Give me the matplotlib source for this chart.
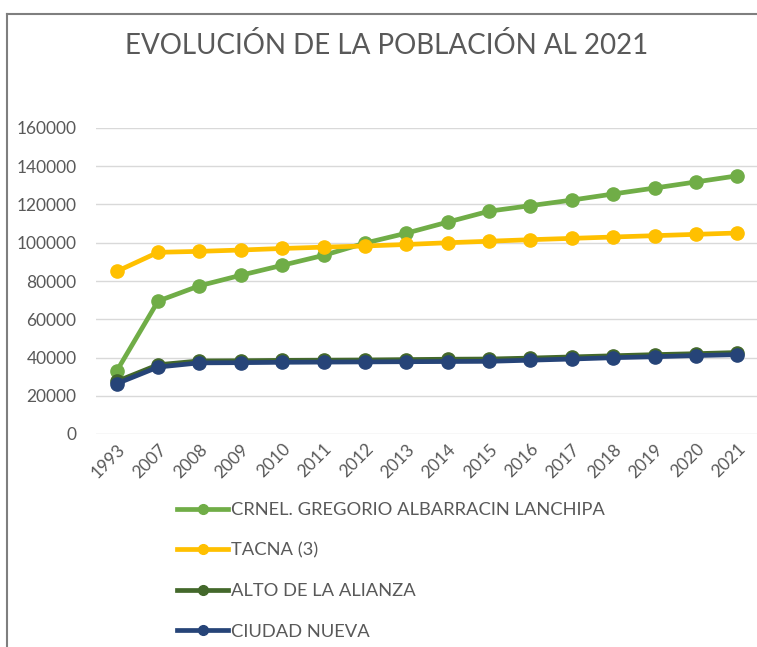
import matplotlib
matplotlib.use("Agg")
import matplotlib.pyplot as plt
from matplotlib.lines import Line2D

years = ["1993", "2007", "2008", "2009", "2010", "2011", "2012", "2013",
         "2014", "2015", "2016", "2017", "2018", "2019", "2020", "2021"]
gregorio = [32900, 69500, 77500, 83000, 88200, 93400, 99800, 105000,
            110800, 116500, 119400, 122300, 125500, 128600, 131800, 135000]
tacna = [85000, 95000, 95500, 96200, 97000, 97700, 98300, 99100,
         100000, 100800, 101600, 102300, 103000, 103700, 104400, 105100]
alto = [27500, 36200, 38200, 38300, 38500, 38600, 38700, 38900,
        39100, 39200, 39700, 40300, 40900, 41500, 42000, 42600]
ciudad = [26300, 35000, 37200, 37300, 37500, 37600, 37700, 37800,
          37900, 38000, 38600, 39200, 39900, 40400, 41000, 41500]
series_names = ["CRNEL. GREGORIO ALBARRACIN LANCHIPA", "TACNA (3)",
                "ALTO DE LA ALIANZA", "CIUDAD NUEVA"]
colors = ["#70AD47", "#FFC000", "#43682B", "#264478"]
yticks = [0, 20000, 40000, 60000, 80000, 100000, 120000, 140000, 160000]

plt.rcParams['font.family'] = ['Lato', 'DejaVu Sans']

W, H = 757, 647
fig = plt.figure(figsize=(W / 100, H / 100), dpi=100)
ax = fig.add_axes([96 / W, 1 - 434 / H, (758 - 96) / W, (434 - 128) / H])

x = list(range(len(years)))
for vals, name, c in zip([gregorio, tacna, alto, ciudad], series_names, colors):
    ax.plot(x, vals, color=c, lw=3.4, marker='o', markersize=9.5, label=name,
            solid_capstyle='round')

ax.set_xlim(-0.5, len(years) - 0.5)
ax.set_ylim(0, 160000)
ax.set_yticks(yticks)
ax.set_yticklabels([str(v) for v in yticks])
ax.set_xticks(x)
ax.set_xticklabels(years, rotation=45, ha='right', rotation_mode='anchor')
ax.tick_params(axis='both', length=0, colors='#595959', labelsize=12.5)
ax.tick_params(axis='y', pad=14)
ax.tick_params(axis='x', pad=5)
ax.grid(axis='y', color='#D9D9D9', lw=1)
ax.set_axisbelow(True)
for s in ax.spines.values():
    s.set_visible(False)

fig.text(387 / W, 1 - 45 / H, "EVOLUCIÓN DE LA POBLACIÓN AL 2021",
         ha='center', va='center', fontsize=20, color='#595959')

handles = [Line2D([0], [0], color=c, lw=3.4, marker='o', markersize=7)
           for c in colors]
leg = fig.legend(handles, series_names, loc='upper left',
                 bbox_to_anchor=(177 / W, 1 - 502 / H), frameon=False,
                 fontsize=13.2, handlelength=2.8, handletextpad=0.15,
                 labelspacing=1.34, borderaxespad=0, borderpad=0)
for t in leg.get_texts():
    t.set_color('#595959')

# outer frame of the chart box
fig.add_artist(Line2D([7 / W, 7 / W], [0, 1 - 14 / H], color='#7F7F7F', lw=1.5,
                      transform=fig.transFigure))
fig.add_artist(Line2D([7 / W, 1], [1 - 14 / H, 1 - 14 / H], color='#7F7F7F',
                      lw=1.5, transform=fig.transFigure))

fig.savefig("out.png", dpi=100)
